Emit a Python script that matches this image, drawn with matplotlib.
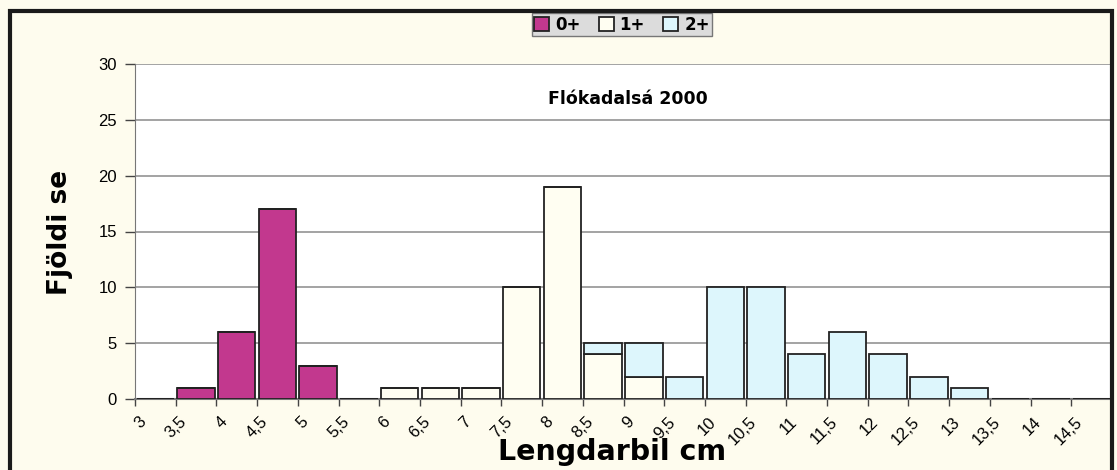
import numpy as np
import matplotlib.pyplot as plt
import matplotlib.transforms as mtransforms
from matplotlib.patches import Rectangle

plt.rcParams['font.family'] = ['Liberation Sans', 'DejaVu Sans']

# length class boundaries (tick labels) and counts per class
tick_labels = ["3", "3,5", "4", "4,5", "5", "5,5", "6", "6,5", "7", "7,5", "8", "8,5",
               "9", "9,5", "10", "10,5", "11", "11,5", "12", "12,5", "13", "13,5", "14", "14,5"]
age0 = [0, 1, 6, 17, 3, 0, 0, 0, 0, 0, 0, 0, 0, 0, 0, 0, 0, 0, 0, 0, 0, 0, 0, 0]
age1 = [0, 0, 0, 0, 0, 0, 1, 1, 1, 10, 19, 4, 2, 0, 0, 0, 0, 0, 0, 0, 0, 0, 0, 0]
age2 = [0, 0, 0, 0, 0, 0, 0, 0, 0, 0, 0, 1, 3, 2, 10, 10, 4, 6, 4, 2, 1, 0, 0, 0]

colors = ["#C2388E", "#FFFEF2", "#DDF6FC"]
series_names = ["0+", "1+", "2+"]
bold_font = ["DejaVu Sans"]

fig = plt.figure(figsize=(11.17, 4.70), dpi=100, facecolor="#FEFCEE")
ax = fig.add_axes([135 / 1117, 1 - 399 / 470, (1112 - 135) / 1117, (399 - 64) / 470])
ax.set_facecolor("white")

x = np.arange(len(tick_labels)) + 0.5
bottom = np.zeros(len(tick_labels))
handles = []
for vals, col, name in zip([age0, age1, age2], colors, series_names):
    vals = np.array(vals)
    h = ax.bar(x, vals, width=0.92, bottom=bottom, color=col, edgecolor="#222222",
               linewidth=1.3, label=name, zorder=3)
    handles.append(h)
    bottom = bottom + vals

ax.set_xlim(0, 24)
ax.set_ylim(0, 30)
ax.set_yticks(range(0, 31, 5))
ax.set_xticks(np.arange(len(tick_labels)))
ax.set_xticklabels(tick_labels, rotation=45, ha="right", va="top", rotation_mode="anchor")
ax.tick_params(axis="both", labelsize=12, colors="#444444", direction="out", length=5,
               width=1, labelcolor="black")
ax.tick_params(axis="x", pad=6)
ax.tick_params(axis="y", pad=6, length=7)
shift = mtransforms.ScaledTranslation(3 / 100, 0, fig.dpi_scale_trans)
for lbl in ax.get_xticklabels():
    lbl.set_transform(lbl.get_transform() + shift)
ax.yaxis.grid(True, color="#8a8a8a", linewidth=1.1, zorder=0)
ax.set_axisbelow(True)
for s in ["top", "right"]:
    ax.spines[s].set_visible(False)
ax.spines["left"].set_color("#777777")
ax.spines["bottom"].set_color("#777777")
ax.spines["bottom"].set_linewidth(1.5)

ax.text(12.1, 26.9, "Flókadalsá 2000", fontsize=12.5, fontweight="bold", family=bold_font,
        ha="center", va="center")

fig.text(60 / 1117, 1 - 232 / 470, "Fjöldi se", rotation=90, fontsize=19, fontweight="bold",
         family=bold_font, ha="center", va="center")
fig.text(612 / 1117, 1 - 452 / 470, "Lengdarbil cm", fontsize=20.5, fontweight="bold",
         family=bold_font, ha="center", va="center")

leg = fig.legend(handles=handles, loc="upper center", bbox_to_anchor=(622 / 1117, 1 - 13 / 470),
                 ncol=3, frameon=True, fancybox=False, handlelength=0.9,
                 handleheight=0.9, handletextpad=0.35, columnspacing=1.1, borderpad=0.15,
                 borderaxespad=0.0, prop={"weight": "bold", "size": 12, "family": bold_font})
leg.get_frame().set_facecolor("#DCDCDC")
leg.get_frame().set_edgecolor("#777777")
leg.get_frame().set_alpha(1)

# outer frame
fig.patches.append(Rectangle((10 / 1117, -0.05), (1112 - 10) / 1117, 1.05 - 11 / 470,
                             transform=fig.transFigure, fill=False, edgecolor="#1a1a1a",
                             linewidth=3, zorder=10))

fig.savefig("out.png", dpi=100, facecolor=fig.get_facecolor())
